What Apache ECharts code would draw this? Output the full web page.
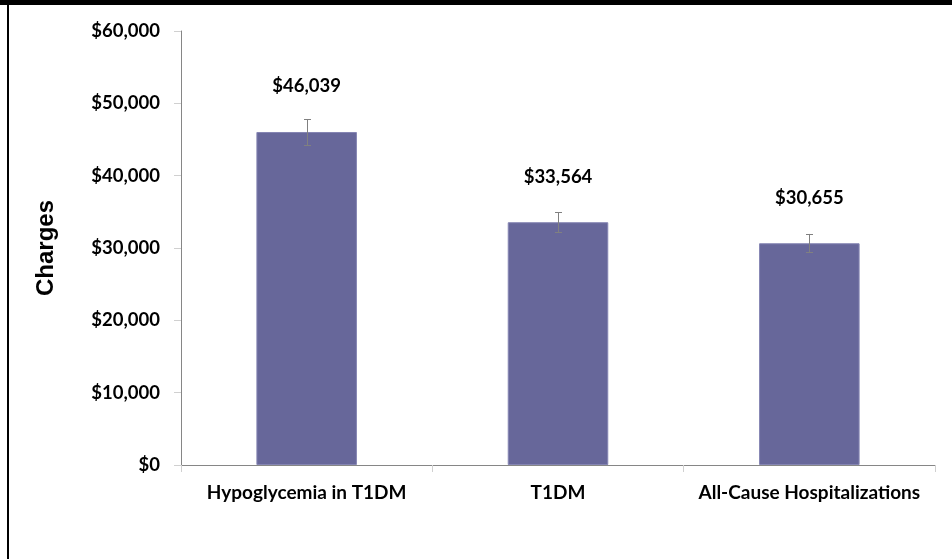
<!DOCTYPE html>
<html>
<head>
<meta charset="utf-8">
<script src="https://cdn.jsdelivr.net/npm/echarts@6/dist/echarts.min.js"></script>
<style>
html,body{margin:0;padding:0;background:#fff;}
#chart{width:952px;height:559px;}
</style>
</head>
<body>
<div id="chart"></div>
<script>
const categories = ['Hypoglycemia in T1DM', 'T1DM', 'All-Cause Hospitalizations'];
const charges = [46039, 33564, 30655];
const errLow = [44200, 32170, 29400];
const errHigh = [47800, 34940, 31940];
const yTicks = { min: 0, max: 60000, interval: 10000 };

const chart = echarts.init(document.getElementById('chart'), null, { renderer: 'canvas' });
const fontFam = 'Lato';
const fmt = v => '$' + v.toLocaleString('en-US');

chart.setOption({
  animation: false,
  backgroundColor: '#ffffff',
  graphic: [
    { type: 'rect', shape: { x: 0, y: 0, width: 952, height: 5 }, style: { fill: '#000' } },
    { type: 'rect', shape: { x: 7, y: 0, width: 2, height: 559 }, style: { fill: '#000' } }
  ],
  grid: { left: 181, right: 17, top: 31, bottom: 94, containLabel: false },
  xAxis: {
    type: 'category',
    data: categories,
    axisLine: { lineStyle: { color: '#868686', width: 1 } },
    axisTick: { show: true, alignWithLabel: false, interval: 0, length: 7, lineStyle: { color: '#d0d0d0' } },
    axisLabel: { color: '#000', fontFamily: fontFam, fontWeight: 'bold', fontSize: 19, margin: 18, interval: 0, hideOverlap: false },
    splitLine: { show: false }
  },
  yAxis: {
    type: 'value',
    min: yTicks.min, max: yTicks.max, interval: yTicks.interval,
    name: 'Charges',
    nameLocation: 'middle',
    nameRotate: 90,
    nameGap: 123,
    nameTextStyle: { color: '#000', fontFamily: 'Liberation Sans', fontWeight: 'bold', fontSize: 24 },
    axisLine: { show: true, lineStyle: { color: '#868686', width: 1 } },
    axisTick: { show: true, length: 7, lineStyle: { color: '#d0d0d0' } },
    axisLabel: { color: '#000', fontFamily: fontFam, fontWeight: 'bold', fontSize: 18.5, margin: 21, formatter: fmt },
    splitLine: { show: false }
  },
  series: [
    {
      type: 'bar',
      data: charges,
      barWidth: '40%',
      itemStyle: { color: '#67679a', borderColor: '#8585b3', borderWidth: 1 },
      label: {
        show: true, position: 'top', distance: 36,
        color: '#000', fontFamily: fontFam, fontWeight: 'bold', fontSize: 18.5,
        formatter: p => fmt(p.value)
      },
      z: 2
    },
    {
      type: 'custom',
      data: categories.map((c, i) => [i, errLow[i], errHigh[i]]),
      renderItem: function (params, api) {
        const x = api.value(0);
        const lo = api.coord([x, api.value(1)]);
        const hi = api.coord([x, api.value(2)]);
        const cx = Math.round(lo[0]) + 0.5;
        const hw = 3.5;
        const st = { stroke: '#808080', lineWidth: 1 };
        return {
          type: 'group',
          children: [
            { type: 'line', shape: { x1: cx, y1: hi[1], x2: cx, y2: lo[1] }, style: st },
            { type: 'line', shape: { x1: cx - hw, y1: Math.round(hi[1]) + 0.5, x2: cx + hw, y2: Math.round(hi[1]) + 0.5 }, style: st },
            { type: 'line', shape: { x1: cx - hw, y1: Math.round(lo[1]) + 0.5, x2: cx + hw, y2: Math.round(lo[1]) + 0.5 }, style: st }
          ]
        };
      },
      z: 3
    }
  ]
});
</script>
</body>
</html>
